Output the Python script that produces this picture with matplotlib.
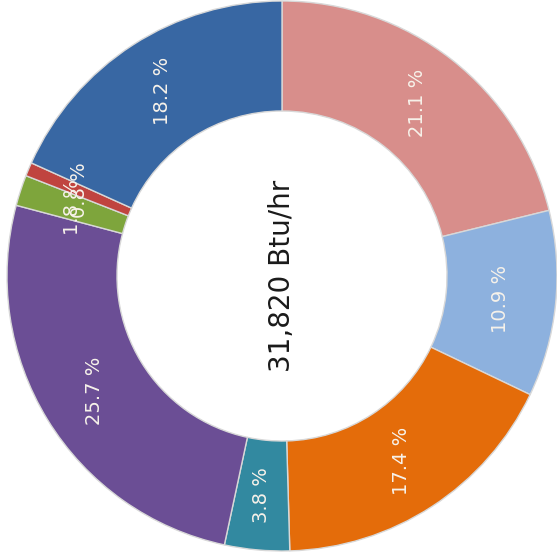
import numpy as np
import matplotlib.pyplot as plt

# porcentajes de cada segmento (sentido horario desde arriba)
valores = [21.1, 10.9, 17.4, 3.8, 25.7, 1.8, 0.8, 18.2]
etiquetas = ['21.1 %', '10.9 %', '17.4 %', '3.8 %', '25.7 %', '1.8 %', '0.8 %', '18.2 %']
colores = ['#D88E8B', '#8DB1DE', '#E46C0A', '#3289A0', '#6B4E95', '#7EA53C', '#C0443F', '#3867A3']
total_texto = '31,820 Btu/hr'

fig = plt.figure(figsize=(5.57, 5.58), dpi=100)
ax = fig.add_axes([0, 0, 1, 1])

wedges, _ = ax.pie(valores, colors=colores, startangle=90, counterclock=False,
                   radius=1, wedgeprops=dict(width=0.4, edgecolor='#d8d8d8', linewidth=1))

# etiquetas rotadas en el centro del anillo
for w, lab in zip(wedges, etiquetas):
    ang = np.deg2rad((w.theta1 + w.theta2) / 2)
    ax.text(0.8 * np.cos(ang), 0.8 * np.sin(ang), lab, rotation=90,
            ha='center', va='center', fontsize=14, color='#f7f2ea')

ax.text(0, 0, total_texto, rotation=90, ha='center', va='center',
        fontsize=20, color='#1a1a1a')

r = 275.0
ax.set_xlim(-282 / r, 275 / r)
ax.set_ylim(-282 / r, 276 / r)
ax.set_aspect('equal')
ax.axis('off')

fig.savefig('out.png', dpi=100)
